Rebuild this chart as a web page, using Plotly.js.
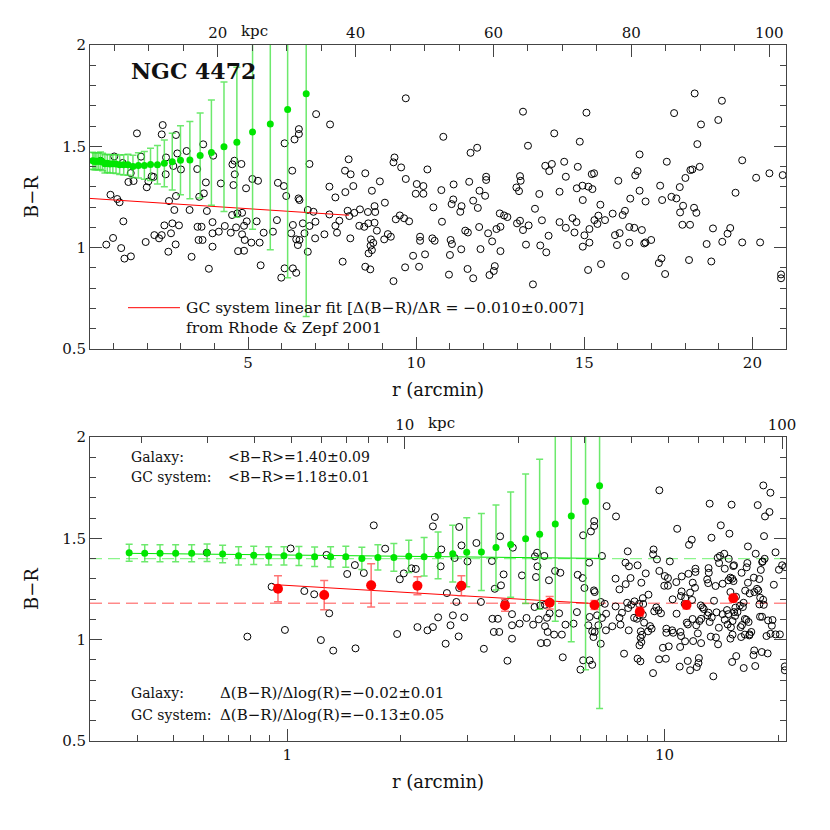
<!DOCTYPE html>
<html>
<head>
<meta charset="utf-8">
<script src="https://cdn.plot.ly/plotly-3.0.1.min.js"></script>
<style>
  html, body { margin: 0; padding: 0; background: #fff; }
  #chart { width: 830px; height: 830px; }
</style>
</head>
<body>
<div id="chart"></div>
<script>
// GC colours (same objects in both panels)
const gcR = [
  0.612, 0.784, 0.909, 0.986, 1.021, 1.110, 1.179, 1.228, 1.271, 1.292, 1.324,
  1.442, 1.511, 1.517, 1.596, 1.696, 1.818, 1.956, 1.988, 2.037, 2.135, 2.192, 2.214,
  2.462, 2.433, 2.857, 3.667, 3.173, 2.897, 2.561, 3.963, 2.778, 3.005, 3.489, 2.551,
  3.746, 3.687, 3.549, 2.857, 2.650, 4.191, 4.596, 4.536, 4.803, 4.605, 4.566, 4.941,
  5.129, 5.297, 6.087, 5.889, 6.067, 6.136, 2.808, 3.262, 3.776, 4.526, 4.684, 4.823,
  2.512, 2.749, 2.946, 2.433, 2.709, 2.354, 3.499, 3.618, 3.944, 3.944, 4.131, 4.309,
  4.487, 4.645, 4.882, 4.961, 5.257, 3.529, 3.647, 2.847, 2.630, 3.321, 3.944, 4.823,
  4.902, 5.099, 5.346, 5.465, 5.741, 5.860, 4.704, 4.882, 5.376, 3.835, 5.988, 6.087,
  7.025, 7.440, 9.692, 6.512, 6.512, 6.383, 6.314, 6.828, 7.993, 7.884, 8.052, 8.487,
  8.131, 7.420, 7.598, 7.894, 8.684, 8.921, 9.070, 9.356, 9.326, 9.554, 9.692, 10.018,
  9.988, 10.215, 10.215, 6.502, 6.531, 6.778, 6.946, 7.420, 7.963, 8.161, 8.329, 8.566,
  8.763, 8.783, 8.013, 6.334, 6.630, 6.828, 7.005, 7.598, 7.716, 8.309, 8.457, 8.576,
  8.763, 8.832, 9.395, 9.514, 9.642, 9.791, 6.284, 6.679, 6.433, 6.531, 6.482, 6.996,
  7.272, 7.647, 8.042, 8.655, 8.724, 8.645, 8.684, 8.586, 9.050, 9.159, 9.247, 10.116,
  10.116, 6.778, 7.815, 8.487, 8.635, 6.334, 6.433, 9.672, 10.087, 9.909, 9.326,
  13.178, 10.808, 14.107, 11.618, 11.815, 13.326, 10.334, 13.840, 14.037, 13.958, 10.749,
  11.114, 11.578, 12.082, 12.082, 11.884, 12.052, 13.089, 13.109, 12.981, 13.060, 13.662,
  10.512, 11.104, 11.055, 11.351, 11.312, 11.697, 11.835, 13.534, 12.487, 12.615, 12.714,
  10.768, 11.874, 11.460, 11.539, 12.141, 12.388, 12.507, 13.000, 13.089, 13.178, 13.346,
  13.741, 10.265, 10.482, 10.551, 11.025, 11.065, 11.341, 11.914, 12.260, 12.507, 13.267,
  13.692, 13.870, 13.939, 11.005, 11.529, 11.697, 12.339, 12.309, 12.181, 10.976, 13.474,
  14.403, 15.065, 17.672, 14.867, 14.808, 16.645, 17.455, 14.452, 15.223, 15.292, 16.586,
  16.516, 18.156, 18.008, 14.265, 14.778, 14.946, 15.124, 15.242, 14.956, 16.013, 16.645,
  16.368, 16.823, 17.257, 17.316, 17.593, 17.741, 17.840, 15.479, 17.939, 17.850, 14.265,
  14.650, 14.768, 14.452, 14.709, 15.005, 15.153, 15.302, 15.420, 15.391, 15.618, 15.845,
  16.141, 16.210, 15.914, 16.052, 16.339, 16.487, 16.714, 17.919, 18.146, 14.956, 15.153,
  15.973, 16.339, 16.783, 16.823, 16.990, 15.499, 15.114, 17.297, 17.218, 18.116, 16.220,
  17.405,
  18.284, 19.094, 18.472, 18.986, 18.363, 19.697, 18.433, 18.215, 20.112, 20.507, 20.902,
  19.499, 18.265, 18.334, 18.828, 19.341, 19.262, 18.640, 19.104, 19.697, 20.230, 18.778,
  20.852, 20.852
];
const gcBR = [
  1.429, 1.015, 1.261, 1.048, 1.450, 1.240, 1.224, 0.998, 1.418, 1.130, 0.946,
  1.324, 1.368, 0.957, 1.329, 1.564, 1.449, 1.028, 1.298, 1.327, 1.352, 1.349, 1.062,
  1.605, 1.559, 1.556, 1.510, 1.477, 1.465, 1.445, 1.454, 1.403, 1.386, 1.388, 1.362,
  1.322, 1.268, 1.251, 1.255, 1.230, 1.317, 1.429, 1.411, 1.413, 1.362, 1.309, 1.293,
  1.339, 1.330, 1.515, 1.320, 1.304, 1.255, 1.186, 1.186, 1.181, 1.161, 1.169, 1.172,
  1.110, 1.120, 1.110, 1.062, 1.071, 1.046, 1.103, 1.103, 1.126, 1.071, 1.079, 1.107,
  1.074, 1.100, 1.108, 1.130, 1.130, 1.038, 1.038, 1.016, 0.980, 0.955, 1.005, 1.066,
  1.038, 1.025, 1.025, 1.074, 1.079, 1.136, 0.983, 0.985, 0.913, 0.896, 0.852, 0.898,
  1.659, 1.608, 1.737, 1.585, 1.561, 1.534, 1.380, 1.413, 1.436, 1.380, 1.362, 1.367,
  1.304, 1.301, 1.248, 1.274, 1.281, 1.327, 1.222, 1.445, 1.421, 1.396, 1.339, 1.314,
  1.266, 1.304, 1.266, 1.243, 1.235, 1.186, 1.177, 1.164, 1.182, 1.172, 1.189, 1.176,
  1.205, 1.176, 1.156, 1.112, 1.120, 1.107, 1.128, 1.108, 1.133, 1.108, 1.103, 1.120,
  1.123, 1.084, 1.140, 1.159, 1.145, 1.130, 1.071, 1.071, 1.041, 1.038, 1.013, 1.046,
  1.066, 1.074, 1.046, 1.041, 1.024, 1.010, 0.988, 0.972, 1.041, 1.067, 1.054, 1.054,
  1.034, 0.980, 0.931, 0.906, 0.893, 0.898, 0.876, 0.903, 0.906, 0.960, 0.835,
  1.671, 1.547, 1.564, 1.468, 1.493, 1.503, 1.386, 1.404, 1.413, 1.378, 1.284,
  1.312, 1.325, 1.350, 1.334, 1.281, 1.256, 1.353, 1.330, 1.297, 1.279, 1.265,
  1.199, 1.238, 1.215, 1.205, 1.177, 1.232, 1.196, 1.192, 1.169, 1.159, 1.151,
  1.128, 1.102, 1.084, 1.075, 1.071, 1.092, 1.103, 1.120, 1.133, 1.087, 1.110,
  1.135, 0.967, 1.046, 1.034, 1.038, 1.018, 0.992, 0.993, 1.031, 0.983, 1.015,
  1.011, 0.977, 1.059, 0.964, 0.895, 0.849, 0.909, 0.885, 0.865, 0.867, 0.819,
  1.424, 1.666, 1.664, 1.523, 1.399, 1.460, 1.424, 1.350, 1.363, 1.367, 1.378,
  1.357, 1.383, 1.344, 1.276, 1.293, 1.306, 1.301, 1.289, 1.235, 1.330, 1.281,
  1.242, 1.228, 1.306, 1.235, 1.251, 1.243, 1.299, 1.212, 1.207, 1.174, 1.126,
  1.146, 1.126, 1.098, 1.075, 1.061, 1.092, 1.136, 1.158, 1.117, 1.136, 1.168,
  1.161, 1.182, 1.062, 1.072, 1.102, 1.098, 1.087, 1.113, 1.113, 1.005, 1.025,
  1.013, 1.025, 1.021, 1.026, 1.038, 0.919, 0.890, 0.947, 0.924, 0.939, 0.860,
  0.870,
  1.761, 1.725, 1.608, 1.630, 1.511, 1.431, 1.399, 1.386, 1.345, 1.367, 1.358,
  1.271, 1.197, 1.172, 1.095, 1.097, 1.069, 1.018, 1.029, 1.026, 1.026, 0.932,
  0.868, 0.849
];

// galaxy light profile
const galR = [0.381, 0.419, 0.460, 0.506, 0.558, 0.613, 0.674, 0.743, 0.815, 0.893, 0.980,
  1.074, 1.182, 1.303, 1.430, 1.577, 1.739, 1.917, 2.100, 2.306, 2.511, 2.746, 2.991,
  3.271, 3.576, 3.911, 4.285, 4.668, 5.135, 5.662, 6.178, 6.730];
const galBR = [1.429, 1.426, 1.426, 1.426, 1.426, 1.429, 1.423, 1.414, 1.416, 1.413, 1.414,
  1.413, 1.409, 1.409, 1.409, 1.401, 1.406, 1.406, 1.411, 1.409, 1.416, 1.424, 1.431,
  1.432, 1.455, 1.469, 1.498, 1.520, 1.571, 1.610, 1.682, 1.760];
const galErr = [0.042, 0.042, 0.042, 0.042, 0.042, 0.043, 0.043, 0.045, 0.045, 0.045, 0.045,
  0.047, 0.048, 0.050, 0.052, 0.055, 0.062, 0.068, 0.080, 0.095, 0.115, 0.140, 0.170,
  0.190, 0.210, 0.260, 0.320, 0.370, 0.480, 0.620, 0.830, 1.100];

// binned GC means
const binR = [0.945, 1.253, 1.669, 2.214, 2.895, 3.778, 4.962, 6.526, 8.603, 11.44, 15.23];
const binBR = [1.251, 1.220, 1.268, 1.266, 1.266, 1.169, 1.182, 1.171, 1.138, 1.171, 1.204];
const binErr = [0.064, 0.072, 0.107, 0.045, 0.049, 0.029, 0.031, 0.022, 0.022, 0.020, 0.020];

// fits
const linFitR = [0.3, 8.0];
const linFitBR = [1.243, 1.160];
const gcLogFitR = [0.915, 6.53];
const gcLogFitBR = [1.272, 1.178];
const galLogFitR = [0.381, 6.73];
const galLogFitBR = [1.426, 1.401];
const galMean = 1.40;
const gcMean = 1.18;

const rRange = [0.3, 21];
const kpcPerArcmin = 4.878;

const FONT = 'DejaVu Serif';
const AXC = '#444';
const GREEN = '#00e600';
const GREEN_ERR = 'rgba(60,225,60,0.75)';
const RED = '#ff0000';

const circleMarker = { symbol: 'circle-open', size: 7, color: '#000', line: { width: 1, color: '#000' } };

const traces = [
  // top panel (linear r)
  { x: gcR, y: gcBR, xaxis: 'x', yaxis: 'y', mode: 'markers', marker: circleMarker, hoverinfo: 'skip' },
  { x: linFitR, y: linFitBR, xaxis: 'x', yaxis: 'y', mode: 'lines', line: { color: RED, width: 1 } },
  { x: galR, y: galBR, xaxis: 'x', yaxis: 'y', mode: 'markers',
    marker: { color: GREEN, size: 7 },
    error_y: { type: 'data', array: galErr, color: GREEN_ERR, thickness: 1.5, width: 3.5 } },
  { x: [], y: [], xaxis: 'x2', yaxis: 'y', mode: 'markers', hoverinfo: 'skip' },

  // bottom panel (log r)
  { x: rRange, y: [galMean, galMean], xaxis: 'x3', yaxis: 'y2', mode: 'lines',
    line: { color: '#8cf58c', width: 1.2, dash: '12px,6px' } },
  { x: rRange, y: [gcMean, gcMean], xaxis: 'x3', yaxis: 'y2', mode: 'lines',
    line: { color: '#ff5050', width: 1, dash: '12px,6px' } },
  { x: gcR, y: gcBR, xaxis: 'x3', yaxis: 'y2', mode: 'markers', marker: circleMarker, hoverinfo: 'skip' },
  { x: galLogFitR, y: galLogFitBR, xaxis: 'x3', yaxis: 'y2', mode: 'lines', line: { color: GREEN, width: 1 } },
  { x: gcLogFitR, y: gcLogFitBR, xaxis: 'x3', yaxis: 'y2', mode: 'lines', line: { color: RED, width: 1 } },
  { x: galR, y: galBR, xaxis: 'x3', yaxis: 'y2', mode: 'markers',
    marker: { color: GREEN, size: 7 },
    error_y: { type: 'data', array: galErr, color: GREEN_ERR, thickness: 1.5, width: 3.5 } },
  { x: binR, y: binBR, xaxis: 'x3', yaxis: 'y2', mode: 'markers',
    marker: { color: RED, size: 10 },
    error_y: { type: 'data', array: binErr, color: 'rgba(255,70,70,0.75)', thickness: 1.5, width: 4 } },
  { x: [], y: [], xaxis: 'x4', yaxis: 'y2', mode: 'markers', hoverinfo: 'skip' },
];

const tickFont = { family: FONT, size: 15, color: '#111' };
const titleFont = { family: FONT, size: 18, color: '#111' };
const baseAxis = {
  showline: true, linecolor: AXC, linewidth: 1, showgrid: false, zeroline: false,
  ticks: 'inside', ticklen: 12, tickcolor: AXC, tickwidth: 1, tickfont: tickFont,
};
const minorTicks = { ticks: 'inside', ticklen: 6, tickcolor: AXC, tickwidth: 1, showgrid: false };

const yAxis = (domain, anchor) => Object.assign({}, baseAxis, {
  domain, anchor, range: [0.5, 2], mirror: 'ticks',
  tickmode: 'array', tickvals: [0.5, 1, 1.5, 2], ticktext: ['0.5', '1', '1.5', '2'],
  minor: Object.assign({ dtick: 0.1, tick0: 0.5 }, minorTicks),
  title: { text: 'B−R', font: titleFont, standoff: 18 },
});

const decade = [2, 3, 4, 5, 6, 7, 8, 9];

const layout = {
  width: 830, height: 830,
  margin: { l: 90, r: 44, t: 45, b: 89 },
  paper_bgcolor: '#fff', plot_bgcolor: '#fff',
  showlegend: false,
  font: { family: FONT, color: '#111' },
  xaxis: Object.assign({}, baseAxis, {
    anchor: 'y', range: rRange,
    tickmode: 'array', tickvals: [5, 10, 15, 20],
    minor: Object.assign({ dtick: 1, tick0: 0 }, minorTicks),
    title: { text: 'r (arcmin)', font: titleFont, standoff: 12 },
  }),
  xaxis2: Object.assign({}, baseAxis, {
    overlaying: 'x', side: 'top', anchor: 'y',
    range: [rRange[0] * kpcPerArcmin, rRange[1] * kpcPerArcmin],
    tickmode: 'array', tickvals: [20, 40, 60, 80, 100],
    minor: Object.assign({ dtick: 5, tick0: 0 }, minorTicks),
  }),
  yaxis: yAxis([0.5632, 1], 'x'),
  xaxis3: Object.assign({}, baseAxis, {
    type: 'log', anchor: 'y2',
    range: [Math.log10(rRange[0]), Math.log10(rRange[1])],
    tickmode: 'array', tickvals: [1, 10], ticktext: ['1', '10'],
    minor: Object.assign({ tickvals: [0.3, 0.4, 0.5, 0.6, 0.7, 0.8, 0.9].concat(decade, [20]) }, minorTicks),
    title: { text: 'r (arcmin)', font: titleFont, standoff: 12 },
  }),
  xaxis4: Object.assign({}, baseAxis, {
    type: 'log', overlaying: 'x3', side: 'top', anchor: 'y2',
    range: [Math.log10(rRange[0] * kpcPerArcmin), Math.log10(rRange[1] * kpcPerArcmin)],
    tickmode: 'array', tickvals: [10, 100], ticktext: ['10', '100'],
    minor: Object.assign({ tickvals: decade.concat(decade.map(d => d * 10)) }, minorTicks),
  }),
  yaxis2: yAxis([0, 0.4368], 'x3'),
  shapes: [
    { type: 'line', xref: 'x domain', yref: 'y domain', x0: 0.0546, x1: 0.1293, y0: 0.1359, y1: 0.1359,
      line: { color: RED, width: 1 } },
  ],
  annotations: [],
};

const txt = (text, xref, yref, x, y, size, extra) => Object.assign({
  text, xref, yref, x, y, xanchor: 'left', yanchor: 'middle', showarrow: false,
  font: { family: FONT, size: size || 14, color: '#111' },
}, extra || {});

layout.annotations.push(
  txt('<b>NGC 4472</b>', 'x domain', 'y domain', 0.0565, 0.9155, 22),
  txt('GC system linear fit [Δ(B−R)/ΔR = −0.010±0.007]', 'x domain', 'y domain', 0.1355, 0.1359, 15.5),
  txt('from Rhode &amp; Zepf 2001', 'x domain', 'y domain', 0.1355, 0.070, 15.5),
  txt('kpc', 'x2', 'y domain', 20, 1, 15, { xshift: 21, yanchor: 'bottom', yshift: 3 }),
  txt('Galaxy:', 'x3 domain', 'y2 domain', 0.056, 0.9332),
  txt('&lt;B−R&gt;=1.40±0.09', 'x3 domain', 'y2 domain', 0.195, 0.9332),
  txt('GC system:', 'x3 domain', 'y2 domain', 0.056, 0.8674),
  txt('&lt;B−R&gt;=1.18±0.01', 'x3 domain', 'y2 domain', 0.195, 0.8674),
  txt('Galaxy:', 'x3 domain', 'y2 domain', 0.056, 0.1589),
  txt('Δ(B−R)/Δlog(R)=−0.02±0.01', 'x3 domain', 'y2 domain', 0.1835, 0.1589, 15),
  txt('GC system:', 'x3 domain', 'y2 domain', 0.056, 0.0855),
  txt('Δ(B−R)/Δlog(R)=−0.13±0.05', 'x3 domain', 'y2 domain', 0.1835, 0.0855, 15),
  txt('kpc', 'x4', 'y2 domain', 1, 1, 15, { xshift: 21, yanchor: 'bottom', yshift: 3 })
);

Plotly.newPlot('chart', traces, layout, { displayModeBar: false, responsive: false });
</script>
</body>
</html>
